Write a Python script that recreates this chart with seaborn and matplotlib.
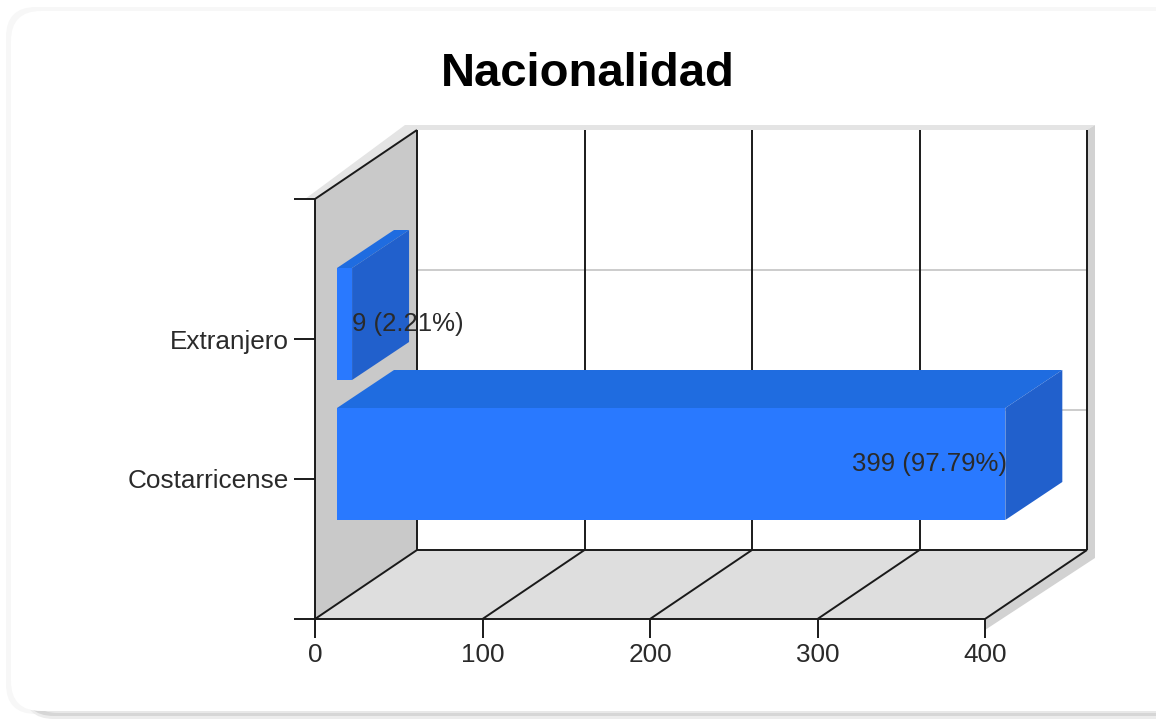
import matplotlib
matplotlib.use("Agg")
import matplotlib.pyplot as plt
import pandas as pd
import seaborn as sns
from matplotlib.patches import FancyBboxPatch, Polygon
from matplotlib.transforms import Affine2D, IdentityTransform

categories = ["Extranjero", "Costarricense"]
personas = [9, 399]
etiquetas = ["9 (2.21%)", "399 (97.79%)"]
x_ticks = [0, 100, 200, 300, 400]

W, H = 1156, 719
DEPTH = (102, 69)      # fondo del plano 3D, en pixeles
BAR_DEPTH = (57, 38)
BAR_SHIFT = (22, 15)

sns.set_style("white")
plt.rcParams["font.family"] = ["Liberation Sans", "DejaVu Sans"]

fig = plt.figure(figsize=(W / 100, H / 100), dpi=100, facecolor="white")
ax = fig.add_axes([315 / W, (H - 619) / H, 670 / W, 420 / H])
ax.patch.set_visible(False)

df = pd.DataFrame({"nacionalidad": categories, "personas": personas})
sns.barplot(data=df, y="nacionalidad", x="personas", order=categories,
            color="#2979ff", saturation=1, ax=ax, zorder=5)

ax.set_xlim(0, 400)
ax.set_ylim(2, -1)
ax.set_xlabel("")
ax.set_ylabel("")
ax.set_xticks(x_ticks)
ax.set_yticks([-1, 0, 1, 2], ["", categories[0], categories[1], ""])
ax.tick_params(axis="both", length=15, width=1.4, color="#1a1a1a", labelcolor="#2a2a2a",
               labelsize=18.8, left=True, bottom=True, pad=4)
ax.tick_params(axis="x", length=14, pad=3)
for name, spine in ax.spines.items():
    spine.set_visible(name in ("left", "bottom"))
    spine.set_color("#1a1a1a")
    spine.set_linewidth(1.4)
    spine.set_zorder(3)


def pix(x, y):
    return (x, H - y)


def poly(points, color, z, pixel=True):
    pts = [pix(*p) for p in points] if pixel else points
    ax.add_patch(Polygon(pts, closed=True, facecolor=color, edgecolor="none",
                         transform=IdentityTransform(), clip_on=False, zorder=z))


def line(points, color="#1a1a1a", lw=1.4, z=2):
    xs, ys = zip(*points)
    ax.plot(xs, ys, color=color, lw=lw, transform=IdentityTransform(),
            clip_on=False, zorder=z, solid_capstyle="butt")


def card(x0, y0, x1, y1, color, z):
    ax.add_patch(FancyBboxPatch((x0 + 30, H - y1 + 30), x1 - x0 - 60, y1 - y0 - 60,
                                boxstyle="round,pad=30", facecolor=color, edgecolor="none",
                                transform=IdentityTransform(), clip_on=False, zorder=z))


# tarjeta de fondo
card(6, 7, 1200, 714, "#f7f7f7", -13)
card(24, 660, 1200, 719, "#ececec", -12.6)
card(24, 660, 1200, 716, "#d6d6d6", -12.5)
card(28, 660, 1200, 713, "#e8e8e8", -12.4)
card(11, 11, 1200, 711, "#ffffff", -12)

# sombra del grafico
poly([(305, 199), (405, 125), (1095, 125), (1087, 130), (417, 130), (315, 199)], "#e4e4e4", -5)
poly([(1087, 130), (1095, 125), (1095, 558), (985, 630), (985, 619), (1087, 550)], "#d2d2d2", -5)

# pared izquierda y piso
dx, dy = DEPTH
poly([(315, 199), (315 + dx, 199 - dy), (315 + dx, 619 - dy), (315, 619)], "#c9c9c9", -4)
poly([(315, 619), (315 + dx, 619 - dy), (985 + dx, 619 - dy), (985, 619)], "#dedede", -4)

to_px = ax.transData.transform
# rejilla horizontal del fondo
for i in [0, 1]:
    px, py = to_px((0, i))
    line([(px + dx, py + dy), (985 + dx, py + dy)], color="#c4c4c4", lw=1.2, z=-3)

# rejilla vertical, piso y techo del fondo
for value in x_ticks:
    px, py = to_px((value, 2))
    _, top = to_px((value, -1))
    line([(px + dx, py + dy), (px + dx, top + dy)], z=-2)
    line([(px, py), (px + dx, py + dy)], z=-2)
px0, py0 = to_px((0, 2))
px1, _ = to_px((400, 2))
_, top = to_px((0, -1))
line([(px0 + dx, py0 + dy), (px1 + dx, py0 + dy)], z=-2)
line([(px0, top), (px0 + dx, top + dy)], z=-2)

# barras con cara superior y lateral
sx, sy = BAR_SHIFT
bx, by = BAR_DEPTH
shift = Affine2D().translate(sx, sy)
for bar in list(ax.patches):
    if not isinstance(bar, matplotlib.patches.Rectangle) or bar.get_zorder() != 5:
        continue
    x0, y1 = to_px((bar.get_x(), bar.get_y()))
    x1, y0 = to_px((bar.get_x() + bar.get_width(), bar.get_y() + bar.get_height()))
    x0, x1, y0, y1 = x0 + sx, x1 + sx, y0 + sy, y1 + sy
    z = 4 + bar.get_y() * 0.1
    poly([(x0, y1), (x0 + bx, y1 + by), (x1 + bx, y1 + by), (x1, y1)], "#1f6ce0", z, pixel=False)
    poly([(x1, y0), (x1 + bx, y0 + by), (x1 + bx, y1 + by), (x1, y1)], "#2160cc", z, pixel=False)
    bar.set_transform(ax.transData + shift)
    bar.set_clip_on(False)
    bar.set_edgecolor("none")
    bar.set_zorder(z + 0.01)

# etiquetas de valor
for i, (value, texto) in enumerate(zip(personas, etiquetas)):
    ha = "left" if value < 200 else "right"
    px, py = to_px((value, i))
    ax.text(px + sx + (0 if ha == "left" else 2), py + sy, texto, ha=ha, va="center",
            fontsize=18.5, color="#2a2a2a", transform=IdentityTransform(), zorder=8, clip_on=False)

fig.text(588 / W, (H - 74) / H, "Nacionalidad", ha="center", va="center",
         fontsize=34, fontweight="bold", color="black")

fig.savefig("out.png", dpi=100)
